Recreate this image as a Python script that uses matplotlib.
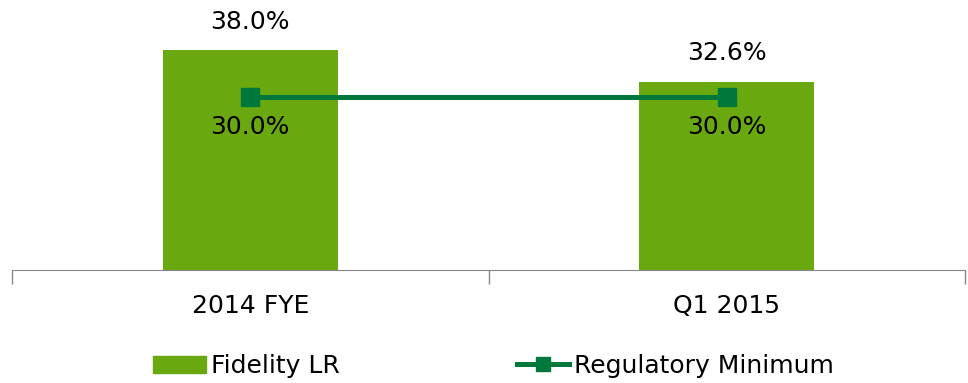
import matplotlib.pyplot as plt
from matplotlib.lines import Line2D
from matplotlib.patches import Patch

categories = ["2014 FYE", "Q1 2015"]
fidelity_lr = [38.0, 32.6]
regulatory_min = [30.0, 30.0]

BAR_COLOR = "#6aa80f"
LINE_COLOR = "#00783c"

plt.rcParams['font.family'] = ['DejaVu Sans']

fig = plt.figure(figsize=(9.68, 3.83), dpi=100)
ax = fig.add_axes([12 / 968, 1 - 270 / 383, (965 - 12) / 968, 260 / 383])

x = range(len(categories))
ax.bar(x, fidelity_lr, width=0.367, color=BAR_COLOR)
ax.plot(x, regulatory_min, color=LINE_COLOR, linewidth=3.6,
        marker='s', markersize=13, zorder=3)

for i, v in enumerate(fidelity_lr):
    ax.text(i, v + 2.9, f"{v:.1f}%", ha='center', va='bottom', fontsize=18)
for i, v in enumerate(regulatory_min):
    ax.text(i, v - 3.2, f"{v:.1f}%", ha='center', va='top', fontsize=18)

ax.set_xlim(-0.5, 1.5)
ax.set_ylim(0, 45)
ax.set_yticks([])
ax.set_xticks(list(x))
ax.set_xticklabels(categories, fontsize=18)
ax.tick_params(axis='x', which='major', length=0, pad=17)
ax.set_xticks([-0.5, 0.5, 1.5], minor=True)
ax.tick_params(axis='x', which='minor', length=10, color='#888888', width=1)

for side in ['top', 'right', 'left']:
    ax.spines[side].set_visible(False)
ax.spines['bottom'].set_color('#888888')

handles = [Patch(color=BAR_COLOR),
           Line2D([0], [0], color=LINE_COLOR, linewidth=3.6, marker='s', markersize=10)]
fig.legend(handles, ["Fidelity LR", "Regulatory Minimum"], ncol=2, frameon=False,
           loc='center', bbox_to_anchor=(0.51, 1 - 366 / 383), fontsize=18,
           handlelength=2.1, handletextpad=0.2, columnspacing=7.1)

fig.savefig("out.png", dpi=100)
